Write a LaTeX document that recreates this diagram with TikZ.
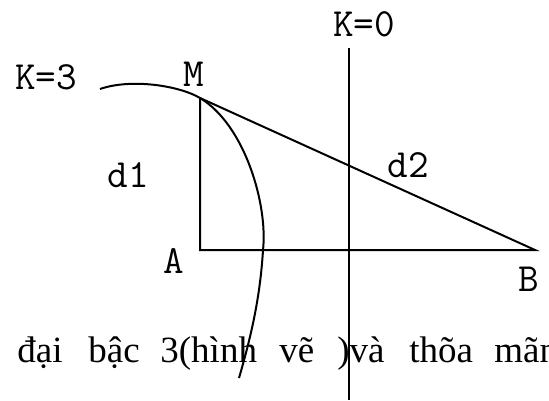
\documentclass[tikz,border=0pt]{standalone}
\usepackage{fontspec}
\setmainfont{Liberation Serif}
\usepackage{tikz}

\begin{document}
\begin{tikzpicture}[x=0.5pt,y=-0.5pt,
  every node/.style={inner sep=0pt},
  lbl/.style={font=\ttfamily\fontsize{20}{20}\selectfont,anchor=base},
  txt/.style={font=\fontsize{18.5}{18.5}\selectfont,anchor=base west},
  ln/.style={line width=1pt}]
\useasboundingbox (0,0) rectangle (549,400);
\clip (0,0) rectangle (549,400);
\coordinate (M) at (200,98);
\coordinate (A) at (200,250);
\coordinate (B) at (535,250);
\coordinate (ktop) at (349,48);
\coordinate (kbot) at (349,400);
\coordinate (cstart) at (100,89);
\coordinate (cmid) at (263,250);
\coordinate (cend) at (239,378);
\node[lbl] (k3) at (46,90) {K=3};
\node[lbl] (k0) at (364,37) {K=0};
\node[lbl] (m) at (194,87) {M};
\node[lbl] (d1) at (128,188) {d1};
\node[lbl] (d2) at (408,177) {d2};
\node[lbl] (a) at (174,273) {A};
\node[lbl] (b) at (529,291) {B};
\foreach \w/\x in {đại/17,bậc/88,3(hình/160,vẽ/279,)và/337,thõa/409,mãn/494}
  \node[txt] (w\x) at (\x,362) {\w};
\draw[ln] (M) -- (A) -- (B) -- (M);
\draw[ln] (ktop) -- (kbot);
\draw[ln] (cstart) .. controls (132,78) and (180,86) .. (M)
  .. controls (245,125) and (268,205) .. (cmid)
  .. controls (260,300) and (250,340) .. (cend);
\end{tikzpicture}
\end{document}
